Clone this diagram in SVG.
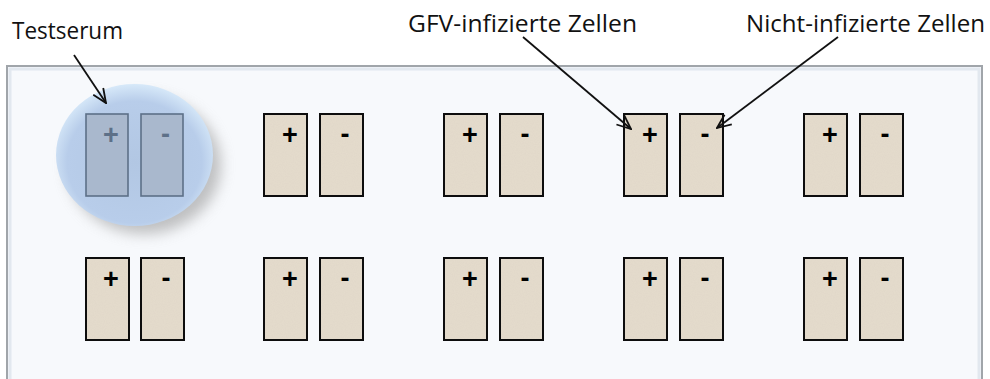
<svg xmlns="http://www.w3.org/2000/svg" width="990" height="379" viewBox="0 0 990 379">
  <defs>
    <style>
      .label { font-family: "Open Sans", "Liberation Sans", sans-serif; font-size: 23px; fill: #111; }
      .well { fill: #e5dccd; stroke: none; filter: url(#grain); }
      .edge { fill: none; stroke: #0d0d0d; stroke-width: 2; }
      .sign { font-family: "Liberation Sans", Arial, sans-serif; font-weight: bold; font-size: 27px; fill: #000; text-anchor: middle; }
      .well-sel { fill: #a9b8cd; stroke: #5d7088; stroke-width: 1.6; }
      .sign-sel { fill: #5d7088; }
      .conn { stroke: #111; stroke-width: 1.8; fill: none; marker-end: url(#vhead); }
    </style>
    <marker id="vhead" markerUnits="userSpaceOnUse" markerWidth="16" markerHeight="14" viewBox="0 0 16 14" refX="15" refY="7" orient="auto">
      <path d="M1,1 L15,7 L1,13" fill="none" stroke="#111" stroke-width="1.8"/>
    </marker>
    <radialGradient id="halo" cx="50%" cy="55%" r="55%">
      <stop offset="0" stop-color="#b2c7e3"/>
      <stop offset="0.78" stop-color="#b8cdea"/>
      <stop offset="1" stop-color="#d7e9f9"/>
    </radialGradient>
    <filter id="soft" x="-30%" y="-30%" width="160%" height="160%">
      <feGaussianBlur stdDeviation="7"/>
    </filter>
    <filter id="grain" x="0" y="0" width="1" height="1">
      <feTurbulence type="fractalNoise" baseFrequency="0.9" numOctaves="2" seed="3" result="n"/>
      <feColorMatrix in="n" type="matrix" values="0 0 0 0 0.55  0 0 0 0 0.5  0 0 0 0 0.42  0 0 0 0.16 0" result="spots"/>
      <feComposite in="spots" in2="SourceGraphic" operator="atop"/>
    </filter>
  </defs>

  <rect width="990" height="379" fill="#ffffff"/>

  <!-- plate panel with bevelled frame -->
  <g id="plate">
    <rect x="7" y="66" width="975" height="330" fill="#f7f9fc" stroke="#a0a5aa" stroke-width="2"/>
    <rect x="10" y="69" width="969" height="330" fill="none" stroke="#e2e8ef" stroke-width="3"/>
  </g>

  <!-- highlighted sample position -->
  <g id="testserum-ring">
    <ellipse cx="144" cy="165" rx="77" ry="69" fill="#9a9a9a" opacity="0.6" filter="url(#soft)"/>
    <ellipse cx="134.5" cy="155" rx="78.5" ry="71" fill="url(#halo)"/>
  </g>

  <!-- row 1 -->
  <g id="w1p"><rect class="well-sel" x="86" y="114" width="42" height="82"/><text class="sign sign-sel" x="111" y="144">+</text></g>
  <g id="w1m"><rect class="well-sel" x="141" y="114" width="42" height="82"/><text class="sign sign-sel" x="165.5" y="142.5">-</text></g>

  <g id="w2p"><rect class="well" x="264" y="114" width="43" height="82"/><rect class="edge" x="264" y="114" width="43" height="82"/><text class="sign" x="290" y="144">+</text></g>
  <g id="w2m"><rect class="well" x="320" y="114" width="43" height="82"/><rect class="edge" x="320" y="114" width="43" height="82"/><text class="sign" x="345" y="142.5">-</text></g>

  <g id="w3p"><rect class="well" x="444" y="114" width="43" height="82"/><rect class="edge" x="444" y="114" width="43" height="82"/><text class="sign" x="470" y="144">+</text></g>
  <g id="w3m"><rect class="well" x="500" y="114" width="43" height="82"/><rect class="edge" x="500" y="114" width="43" height="82"/><text class="sign" x="525" y="142.5">-</text></g>

  <g id="w4p"><rect class="well" x="624" y="114" width="43" height="82"/><rect class="edge" x="624" y="114" width="43" height="82"/><text class="sign" x="650" y="144">+</text></g>
  <g id="w4m"><rect class="well" x="680" y="114" width="43" height="82"/><rect class="edge" x="680" y="114" width="43" height="82"/><text class="sign" x="705" y="142.5">-</text></g>

  <g id="w5p"><rect class="well" x="804" y="114" width="43" height="82"/><rect class="edge" x="804" y="114" width="43" height="82"/><text class="sign" x="830" y="144">+</text></g>
  <g id="w5m"><rect class="well" x="860" y="114" width="43" height="82"/><rect class="edge" x="860" y="114" width="43" height="82"/><text class="sign" x="885" y="142.5">-</text></g>

  <!-- row 2 -->
  <g id="w6p"><rect class="well" x="86" y="258" width="43" height="82"/><rect class="edge" x="86" y="258" width="43" height="82"/><text class="sign" x="111" y="288">+</text></g>
  <g id="w6m"><rect class="well" x="141" y="258" width="43" height="82"/><rect class="edge" x="141" y="258" width="43" height="82"/><text class="sign" x="166" y="286.5">-</text></g>

  <g id="w7p"><rect class="well" x="264" y="258" width="43" height="82"/><rect class="edge" x="264" y="258" width="43" height="82"/><text class="sign" x="290" y="288">+</text></g>
  <g id="w7m"><rect class="well" x="320" y="258" width="43" height="82"/><rect class="edge" x="320" y="258" width="43" height="82"/><text class="sign" x="345" y="286.5">-</text></g>

  <g id="w8p"><rect class="well" x="444" y="258" width="43" height="82"/><rect class="edge" x="444" y="258" width="43" height="82"/><text class="sign" x="470" y="288">+</text></g>
  <g id="w8m"><rect class="well" x="500" y="258" width="43" height="82"/><rect class="edge" x="500" y="258" width="43" height="82"/><text class="sign" x="525" y="286.5">-</text></g>

  <g id="w9p"><rect class="well" x="624" y="258" width="43" height="82"/><rect class="edge" x="624" y="258" width="43" height="82"/><text class="sign" x="650" y="288">+</text></g>
  <g id="w9m"><rect class="well" x="680" y="258" width="43" height="82"/><rect class="edge" x="680" y="258" width="43" height="82"/><text class="sign" x="705" y="286.5">-</text></g>

  <g id="w10p"><rect class="well" x="804" y="258" width="43" height="82"/><rect class="edge" x="804" y="258" width="43" height="82"/><text class="sign" x="830" y="288">+</text></g>
  <g id="w10m"><rect class="well" x="860" y="258" width="43" height="82"/><rect class="edge" x="860" y="258" width="43" height="82"/><text class="sign" x="885" y="286.5">-</text></g>

  <!-- labels -->
  <g id="label-testserum"><text class="label" x="12" y="39" textLength="111" lengthAdjust="spacingAndGlyphs">Testserum</text></g>
  <g id="label-gfv"><text class="label" x="408" y="32" textLength="229" lengthAdjust="spacingAndGlyphs">GFV-infizierte Zellen</text></g>
  <g id="label-nicht"><text class="label" x="746" y="32" textLength="239" lengthAdjust="spacingAndGlyphs">Nicht-infizierte Zellen</text></g>

  <!-- pointer arrows -->
  <g id="connectors">
    <line class="conn" x1="74" y1="55" x2="106" y2="103"/>
    <line class="conn" x1="523" y1="37" x2="631" y2="129"/>
    <line class="conn" x1="838" y1="37" x2="717" y2="128"/>
  </g>
</svg>
